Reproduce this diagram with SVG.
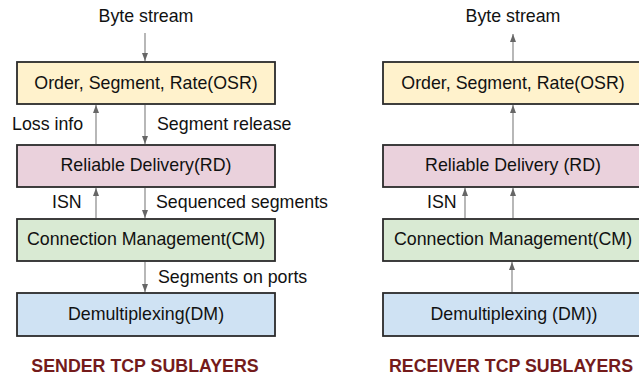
<svg xmlns="http://www.w3.org/2000/svg" width="639" height="377" viewBox="0 0 639 377">
<defs>
<marker id="ah" markerUnits="userSpaceOnUse" markerWidth="8" markerHeight="8" viewBox="0 0 8 8" refX="8" refY="4" orient="auto">
<path d="M0,1 L8,4 L0,7 Z" fill="#666"/>
</marker>
<style>
.box{stroke:#2b2b2b;stroke-width:1.8}
.osr{fill:#fff2cc}.rd{fill:#ead1dc}.cm{fill:#d9ead3}.dm{fill:#cfe2f3}
text{font-family:"Liberation Sans",Arial,sans-serif;font-size:17.8px;fill:#111}
.c{text-anchor:middle}
.t{font-weight:bold;fill:#741b1b}
.ln{stroke:#888;stroke-width:1.2;fill:none;marker-end:url(#ah)}
</style>
</defs>
<g id="sender">
<g id="s-osr"><rect class="box osr" x="17" y="62" width="258" height="42"/><text class="c" x="146" y="89">Order, Segment, Rate(OSR)</text></g>
<g id="s-rd"><rect class="box rd" x="17" y="145" width="258" height="42"/><text class="c" x="146" y="171">Reliable Delivery(RD)</text></g>
<g id="s-cm"><rect class="box cm" x="17" y="219" width="258" height="42"/><text class="c" x="146" y="245">Connection Management(CM)</text></g>
<g id="s-dm"><rect class="box dm" x="17" y="293" width="258" height="43"/><text class="c" x="146" y="320">Demultiplexing(DM)</text></g>
<text class="c t" x="145" y="372">SENDER TCP SUBLAYERS</text>
</g>
<g id="receiver">
<g id="r-osr"><rect class="box osr" x="383" y="62" width="258" height="42"/><text class="c" x="513" y="89">Order, Segment, Rate(OSR)</text></g>
<g id="r-rd"><rect class="box rd" x="383" y="145" width="258" height="42"/><text class="c" x="513" y="171">Reliable Delivery (RD)</text></g>
<g id="r-cm"><rect class="box cm" x="383" y="219" width="258" height="42"/><text class="c" x="513" y="245">Connection Management(CM)</text></g>
<g id="r-dm"><rect class="box dm" x="383" y="293" width="258" height="43"/><text class="c" x="514" y="320">Demultiplexing (DM))</text></g>
<text class="c t" x="511" y="372">RECEIVER TCP SUBLAYERS</text>
</g>
<g id="connectors">
<path class="ln" d="M145,33 V61"/>
<path class="ln" d="M96,144 V105"/>
<path class="ln" d="M145,105 V144"/>
<path class="ln" d="M96,218 V188"/>
<path class="ln" d="M145,188 V218"/>
<path class="ln" d="M145,262 V292"/>
<path class="ln" d="M513,61 V34"/>
<path class="ln" d="M513,144 V105"/>
<path class="ln" d="M465,218 V188"/>
<path class="ln" d="M513,218 V188"/>
<path class="ln" d="M512,292 V262"/>
</g>
<g id="labels">
<text class="c" x="146" y="22">Byte stream</text>
<text class="c" x="513" y="22">Byte stream</text>
<text x="12" y="130">Loss info</text>
<text x="157" y="130">Segment release</text>
<text x="52" y="208">ISN</text>
<text x="156" y="208">Sequenced segments</text>
<text x="158" y="283">Segments on ports</text>
<text x="427" y="208">ISN</text>
</g>
</svg>
